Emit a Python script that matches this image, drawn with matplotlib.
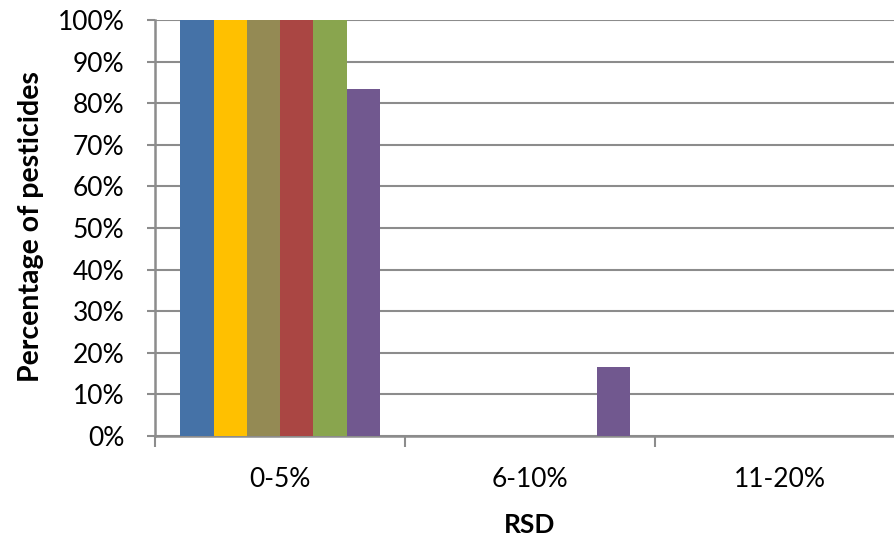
import numpy as np
import matplotlib.pyplot as plt
from matplotlib.ticker import PercentFormatter, FixedLocator

plt.rcParams['font.family'] = ['Lato', 'DejaVu Sans']

# RSD classes and share of pesticides (%) for each of the six series
categories = ['0-5%', '6-10%', '11-20%']
s1 = [100, 0, 0]
s2 = [100, 0, 0]
s3 = [100, 0, 0]
s4 = [100, 0, 0]
s5 = [100, 0, 0]
s6 = [83.3, 16.7, 0]
series = [s1, s2, s3, s4, s5, s6]
colors = ['#4572A7', '#FFC000', '#948A54', '#AA4643', '#89A54E', '#71588F']

fig = plt.figure(figsize=(8.94, 5.38), dpi=100)
ax = fig.add_axes([155 / 894, (538 - 436) / 538, 750 / 894, 416 / 538])

x = np.arange(len(categories))
w = 0.133
for i, (vals, c) in enumerate(zip(series, colors)):
    ax.bar(x + (i - 2.5) * w, vals, w, color=c, zorder=3)

ax.set_xlim(-0.5, 2.5)
ax.set_ylim(0, 100)
ax.set_yticks(np.arange(0, 101, 10))
ax.yaxis.set_major_formatter(PercentFormatter(decimals=0))
ax.yaxis.grid(True, color='#8C8C8C', linewidth=1.5, zorder=0)

ax.set_xticks(x)
ax.set_xticklabels(categories)
ax.xaxis.set_minor_locator(FixedLocator([-0.5, 0.5, 1.5, 2.5]))
ax.tick_params(axis='x', which='major', length=0, pad=22, labelsize=19)
ax.tick_params(axis='x', which='minor', length=8, width=1.5, color='#8C8C8C')
ax.tick_params(axis='y', length=6, width=1.5, color='#8C8C8C', pad=16, labelsize=19)

for s in ['top', 'right']:
    ax.spines[s].set_visible(False)
for s in ['left', 'bottom']:
    ax.spines[s].set_color('#8C8C8C')
    ax.spines[s].set_linewidth(1.8)

fig.text(530 / 894, 1 - 525 / 538, 'RSD', ha='center', va='center',
         fontsize=19, fontweight='bold')
fig.text(31 / 894, 1 - 227 / 538, 'Percentage of pesticides', ha='center',
         va='center', rotation=90, fontsize=20.5, fontweight='bold')

fig.savefig('out.png', dpi=100)
